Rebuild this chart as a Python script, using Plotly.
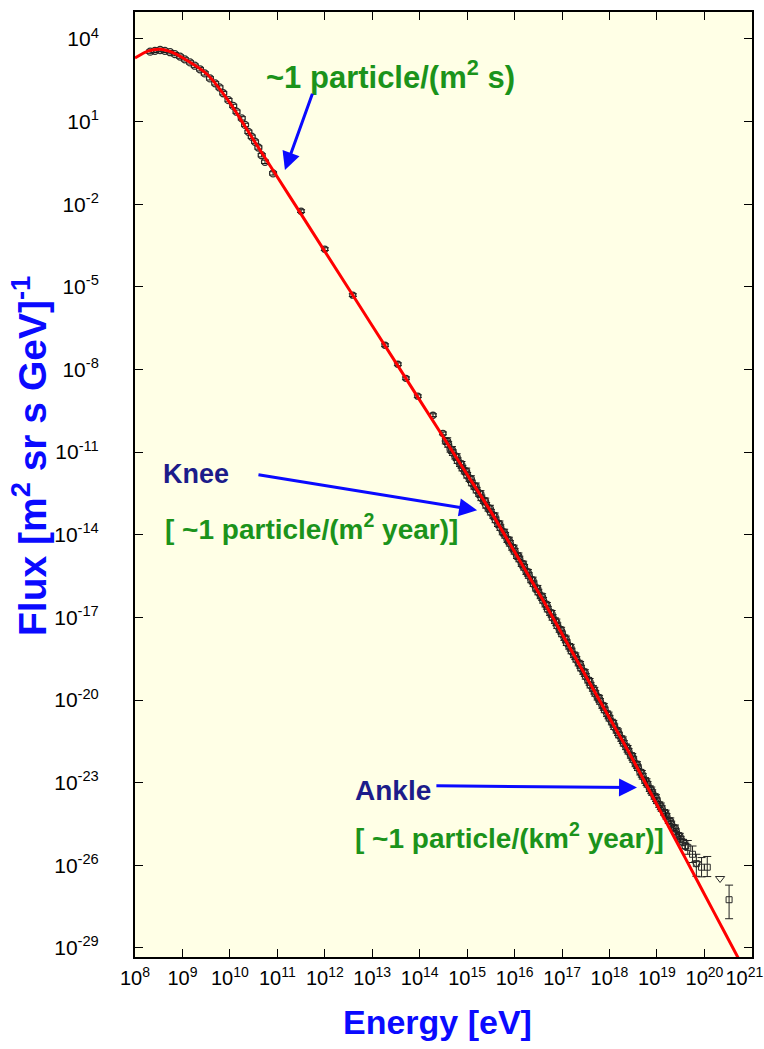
import numpy as np
import plotly.graph_objects as go

# ---- model curve (log10 E [eV], log10 flux) ----
curve_logE = [8.0, 8.27, 8.53, 8.76, 9.01, 9.52, 10.0, 10.5, 11.0, 11.5, 12.0, 13.0,
              14.0, 15.0, 15.5, 16.0, 16.6, 17.0, 18.0, 18.4, 18.8, 19.2, 19.6,
              20.0, 20.4, 20.8]
curve_logF = [3.31, 3.56, 3.63, 3.53, 3.31, 2.72, 1.68, 0.33, -1.01, -2.36, -3.71, -6.41,
              -9.11, -11.81, -13.16, -14.62, -16.38, -17.6, -20.65, -21.87, -23.15,
              -24.45, -25.75, -27.05, -28.35, -29.65]

# ---- measurements: low-energy direct data ----
low_logE = [8.32, 8.42, 8.53, 8.63, 8.74, 8.84, 8.95, 9.05, 9.16, 9.26, 9.37, 9.47,
            9.58, 9.69, 9.78, 9.86, 9.97, 10.07, 10.14, 10.25, 10.32, 10.39, 10.46,
            10.53, 10.60, 10.67, 10.74, 10.91]
low_logF = [3.54, 3.57, 3.60, 3.57, 3.52, 3.45, 3.36, 3.26, 3.15, 3.03, 2.90, 2.75,
            2.57, 2.39, 2.24, 2.03, 1.78, 1.57, 1.36, 1.12, 0.88, 0.63, 0.45,
            0.27, 0.06, -0.22, -0.46, -0.88]

# ---- sparse balloon / satellite data ----
mid_logE = [11.50, 12.00, 12.59, 13.27, 13.54, 13.71, 13.96, 14.28, 14.49]
mid_logF = [-2.25, -3.63, -5.30, -7.12, -7.81, -8.32, -8.97, -9.66, -10.32]

# ---- air-shower data (dense band), two overlapping experiments ----
air_logE = [14.55, 14.60, 14.65, 14.70, 14.75, 14.80, 14.85, 14.90, 14.95, 15.00,
            15.05, 15.10, 15.15, 15.20, 15.25, 15.30, 15.35, 15.40, 15.45, 15.50,
            15.55, 15.60, 15.65, 15.70, 15.75, 15.80, 15.85, 15.90, 15.95, 16.00,
            16.05, 16.10, 16.15, 16.20, 16.25, 16.30, 16.35, 16.40, 16.45, 16.50,
            16.55, 16.60, 16.65, 16.70, 16.75, 16.80, 16.85, 16.90, 16.95, 17.00,
            17.05, 17.10, 17.15, 17.20, 17.25, 17.30, 17.35, 17.40, 17.45, 17.50,
            17.55, 17.60, 17.65, 17.70, 17.75, 17.80, 17.85, 17.90, 17.95, 18.00,
            18.05, 18.10, 18.15, 18.20, 18.25, 18.30, 18.35, 18.40, 18.45, 18.50,
            18.55, 18.60, 18.65, 18.70, 18.75, 18.80, 18.85, 18.90, 18.95, 19.00,
            19.05, 19.10, 19.15, 19.20, 19.25, 19.30, 19.35, 19.40, 19.45, 19.50,
            19.55, 19.60]
air_logF = [-10.60, -10.72, -10.90, -11.02, -11.15, -11.31, -11.42, -11.58, -11.69, -11.84,
            -11.96, -12.12, -12.24, -12.38, -12.50, -12.66, -12.76, -12.93, -13.04, -13.18,
            -13.30, -13.46, -13.60, -13.74, -13.90, -14.02, -14.18, -14.31, -14.46, -14.60,
            -14.76, -14.88, -15.05, -15.18, -15.34, -15.48, -15.64, -15.78, -15.94, -16.08,
            -16.22, -16.38, -16.52, -16.70, -16.83, -17.00, -17.12, -17.30, -17.44, -17.60,
            -17.74, -17.92, -18.05, -18.22, -18.36, -18.52, -18.66, -18.84, -18.97, -19.14,
            -19.28, -19.46, -19.58, -19.76, -19.90, -20.05, -20.20, -20.36, -20.50, -20.66,
            -20.80, -20.97, -21.10, -21.27, -21.40, -21.57, -21.70, -21.86, -22.01, -22.16,
            -22.32, -22.46, -22.62, -22.77, -22.92, -23.06, -23.22, -23.36, -23.50, -23.66,
            -23.80, -23.94, -24.08, -24.22, -24.38, -24.50, -24.64, -24.78, -24.92, -25.05,
            -25.16, -25.30]
air2_logE = [14.58, 14.68, 14.78, 14.88, 14.98, 15.08, 15.18, 15.28, 15.38, 15.48,
             15.58, 15.68, 15.78, 15.88, 15.98, 16.08, 16.18, 16.28, 16.38, 16.48,
             16.58, 16.68, 16.78, 16.88, 16.98, 17.08, 17.18, 17.28, 17.38, 17.48,
             17.58, 17.68, 17.78, 17.88, 17.98, 18.08, 18.18, 18.28, 18.38, 18.48,
             18.58, 18.68, 18.78, 18.88, 18.98, 19.08, 19.18, 19.28, 19.38, 19.48]
air2_logF = [-10.60, -10.92, -11.18, -11.46, -11.70, -11.98, -12.24, -12.52, -12.79, -13.05,
             -13.33, -13.62, -13.92, -14.21, -14.50, -14.78, -15.08, -15.38, -15.66, -15.96,
             -16.26, -16.58, -16.87, -17.18, -17.48, -17.80, -18.10, -18.41, -18.72, -19.02,
             -19.34, -19.66, -19.95, -20.25, -20.56, -20.86, -21.17, -21.46, -21.77, -22.06,
             -22.36, -22.68, -22.98, -23.28, -23.56, -23.86, -24.12, -24.40, -24.66, -24.96]

# ---- highest-energy points with error bars (log10 values) ----
top_logE = [19.65, 19.75, 19.83, 19.94, 20.06, 20.52]
top_logF = [-25.35, -25.60, -25.94, -26.07, -26.07, -27.25]
top_logF_hi = [-25.10, -25.30, -25.60, -25.72, -25.68, -26.72]
top_logF_lo = [-25.60, -25.90, -26.40, -26.42, -26.41, -27.94]

# upper limits
lim_logE = [19.83, 20.33]
lim_logF = [-25.94, -26.48]

# ---- ticks ----
x_tick_exp = list(range(8, 22))
y_tick_exp = [4, 1, -2, -5, -8, -11, -14, -17, -20, -23, -26, -29]

FONT = "Liberation Sans, Arial, Helvetica, sans-serif"

def p10(a):
    return np.power(10.0, np.array(a, dtype=float))

fig = go.Figure()

def add_points(lx, ly, rel=0.06, size=7):
    y = p10(ly)
    fig.add_trace(go.Scatter(
        x=p10(lx), y=y, mode="markers",
        marker=dict(symbol="circle-open", size=size, color="#2a2a2a", line=dict(width=1.3)),
        error_y=dict(type="data", symmetric=False,
                     array=y * (10 ** rel - 1), arrayminus=y * (1 - 10 ** -rel),
                     color="#111111", thickness=1, width=4),
        showlegend=False, hoverinfo="skip"))

add_points(low_logE, low_logF, 0.06)
add_points(mid_logE, mid_logF, 0.05, 6)
add_points(air_logE, air_logF, 0.10)
add_points(air2_logE, air2_logF, 0.12)

ty = p10(top_logF)
fig.add_trace(go.Scatter(
    x=p10(top_logE), y=ty, mode="markers",
    marker=dict(symbol="square-open", size=6, color="#2a2a2a", line=dict(width=1)),
    error_y=dict(type="data", symmetric=False,
                 array=p10(top_logF_hi) - ty, arrayminus=ty - p10(top_logF_lo),
                 color="#222222", thickness=1, width=4),
    showlegend=False, hoverinfo="skip"))
fig.add_trace(go.Scatter(
    x=p10(lim_logE), y=p10(lim_logF), mode="markers",
    marker=dict(symbol="triangle-down-open", size=8, color="#2a2a2a", line=dict(width=1)),
    showlegend=False, hoverinfo="skip"))

# model line
fig.add_trace(go.Scatter(
    x=p10(curve_logE), y=p10(curve_logF), mode="lines",
    line=dict(color="#ff0000", width=3, shape="spline", smoothing=0.6),
    showlegend=False, hoverinfo="skip"))

GREEN = "#1b931b"
NAVY = "#1c1c8a"
BLUE = "#0a0aff"

annots = [
    dict(x=13.39, y=2.69, text="~1 particle/(m<sup>2</sup> s)", color=GREEN, size=31),
    dict(x=9.29, y=-11.81, text="Knee", color=NAVY, size=27),
    dict(x=11.73, y=-13.73, text="[ ~1 particle/(m<sup>2</sup> year)]", color=GREEN, size=28),
    dict(x=13.44, y=-23.29, text="Ankle", color=NAVY, size=28),
    dict(x=15.9, y=-24.92, text="[ ~1 particle/(km<sup>2</sup> year)]", color=GREEN, size=28),
]
for a in annots:
    fig.add_annotation(x=a["x"], y=a["y"], xref="x", yref="y", text=a["text"],
                       showarrow=False,
                       font=dict(family=FONT, size=a["size"], color=a["color"], weight="bold"),
                       xanchor="center", yanchor="middle")

arrows = [
    ((11.75, 2.07), (11.16, -0.76)),
    ((10.57, -11.81), (15.21, -13.11)),
    ((14.32, -23.11), (18.58, -23.18)),
]
for (tx, tyy), (hx, hy) in arrows:
    fig.add_annotation(x=hx, y=hy, ax=tx, ay=tyy, xref="x", yref="y", axref="x", ayref="y",
                       text="", showarrow=True, arrowhead=2, arrowsize=1.2, arrowwidth=3,
                       arrowcolor=BLUE, standoff=0)

# axis titles
fig.add_annotation(x=-0.172, y=0.530, xref="paper", yref="paper",
                   text="Flux [m<sup>2</sup> sr s GeV]<sup>-1</sup>", textangle=-90,
                   showarrow=False, font=dict(family=FONT, size=39, color=BLUE, weight="bold"),
                   xanchor="center", yanchor="middle")
fig.add_annotation(x=0.4895, y=-0.069, xref="paper", yref="paper",
                   text="Energy [eV]", showarrow=False,
                   font=dict(family=FONT, size=34, color=BLUE, weight="bold"),
                   xanchor="center", yanchor="middle")

# last x label padded on the right so it stays inside the page
x_tick_text = ["10<sup>%d</sup>" % e for e in x_tick_exp]
x_tick_text[-1] = x_tick_text[-1] + "\u00a0\u00a0\u2009"

fig.update_layout(
    width=764, height=1049,
    margin=dict(l=135, r=12, t=12, b=92, autoexpand=False),
    paper_bgcolor="white", plot_bgcolor="#ffffe6",
    font=dict(family=FONT, color="black"),
)
fig.update_xaxes(type="log", range=[8, 21.003], automargin=False, tickangle=0,
                 tickvals=[10.0 ** e for e in x_tick_exp],
                 ticktext=x_tick_text,
                 ticks="inside", ticklen=8, tickwidth=1.2, tickcolor="black",
                 showline=True, linewidth=2, linecolor="black", mirror="ticks",
                 showgrid=False, zeroline=False, tickfont=dict(size=20, family=FONT),
                 ticklabelstandoff=2, ticklabeloverflow="allow")
fig.update_yaxes(type="log", range=[-29.33, 4.98], automargin=False,
                 tickvals=[10.0 ** e for e in y_tick_exp],
                 ticktext=["10<sup>%d</sup>" % e for e in y_tick_exp],
                 ticks="inside", ticklen=8, tickwidth=1.2, tickcolor="black",
                 showline=True, linewidth=2, linecolor="black", mirror="ticks",
                 showgrid=False, zeroline=False, tickfont=dict(size=21, family=FONT),
                 ticklabelstandoff=30, ticklabeloverflow="allow")

fig.write_html("out.html")
